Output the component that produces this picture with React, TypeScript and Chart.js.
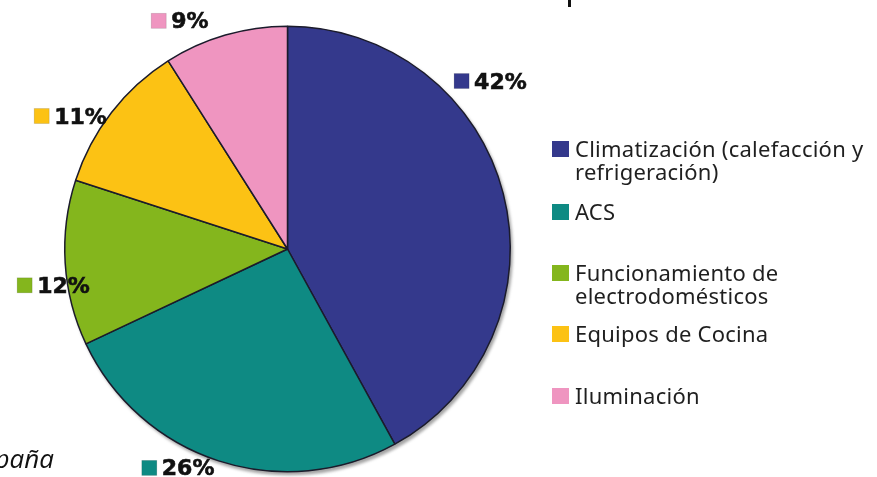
import React, { useEffect, useRef } from "react";
import { Chart, registerables } from "chart.js";

Chart.register(...registerables);

const categories = [
  "Climatización (calefacción y refrigeración)",
  "ACS",
  "Funcionamiento de electrodomésticos",
  "Equipos de Cocina",
  "Iluminación",
];
const legendLines = [
  ["Climatización (calefacción y", "refrigeración)"],
  ["ACS"],
  ["Funcionamiento de", "electrodomésticos"],
  ["Equipos de Cocina"],
  ["Iluminación"],
];
const values = [42, 26, 12, 11, 9];
const colors = ["#34398C", "#0E8A83", "#84B61D", "#FCC214", "#EF95C0"];

// label placement relative to slice geometry (angle nudge in degrees, radial offset in px)
const labelNudgeDeg = [-25.3, 8.6, -5.1, -6.2, -9];
const labelRadial = [41, 21.5, 14, 32, 30];

// legend layout
const LEGEND_X = 552;
const LEGEND_BASELINES = [157, 220, 281, 342, 404];
const LEGEND_LINE_H = 23;
const LEGEND_FONT = "22px 'Noto Sans'";
const LABEL_FONT = "bold 22px 'DejaVu Sans'";

const overlayPlugin = {
  id: "overlay",
  beforeDatasetsDraw(chart: any) {
    const meta = chart.getDatasetMeta(0);
    const arc = meta.data[0];
    if (!arc) return;
    const ctx = chart.ctx;
    ctx.save();
    ctx.fillStyle = "rgba(90,90,90,0.55)";
    ctx.filter = "blur(1.5px)";
    ctx.beginPath();
    ctx.arc(arc.x + 2, arc.y + 3, arc.outerRadius + 0.5, 0, Math.PI * 2);
    ctx.fill();
    ctx.restore();
  },
  afterDraw(chart: any) {
    const ctx = chart.ctx;
    const meta = chart.getDatasetMeta(0);
    ctx.save();
    // percentage labels
    ctx.font = LABEL_FONT;
    ctx.textBaseline = "alphabetic";
    ctx.textAlign = "left";
    meta.data.forEach((a: any, i: number) => {
      const mid = (a.startAngle + a.endAngle) / 2 + (labelNudgeDeg[i] * Math.PI) / 180;
      const r = a.outerRadius + labelRadial[i];
      const cx = a.x + Math.cos(mid) * r;
      const cy = a.y + Math.sin(mid) * r;
      const txt = values[i] + "%";
      const tw = ctx.measureText(txt).width;
      const gw = 15 + 5 + tw;
      const x0 = cx - gw / 2;
      ctx.fillStyle = colors[i];
      ctx.fillRect(x0, cy - 7, 15, 15);
      ctx.strokeStyle = "rgba(0,0,0,0.15)";
      ctx.lineWidth = 0.8;
      ctx.strokeRect(x0, cy - 7, 15, 15);
      ctx.fillStyle = "#111";
      ctx.lineWidth = 0.6;
      ctx.strokeStyle = "#111";
      ctx.fillText(txt, x0 + 20, cy + 8);
      ctx.strokeText(txt, x0 + 20, cy + 8);
    });
    // legend
    ctx.font = LEGEND_FONT;
    (ctx as any).letterSpacing = "0.25px";
    categories.forEach((_, i) => {
      const b = LEGEND_BASELINES[i];
      ctx.fillStyle = colors[i];
      ctx.fillRect(LEGEND_X, b - 16, 17, 16);
      ctx.fillStyle = "#1f1f1f";
      legendLines[i].forEach((ln, j) => {
        ctx.fillText(ln, LEGEND_X + 23, b + j * LEGEND_LINE_H);
      });
    });
    (ctx as any).letterSpacing = "0px";
    // stray source text and tick
    ctx.font = "italic 26px 'Open Sans'";
    ctx.textAlign = "right";
    ctx.fillStyle = "#111";
    ctx.fillText("España", 54, 468);
    ctx.fillRect(568, 0, 3, 7);
    ctx.restore();
  },
};

export default function App() {
  const ref = useRef<HTMLCanvasElement>(null);
  useEffect(() => {
    if (!ref.current) return;
    const chart = new Chart(ref.current, {
      type: "pie",
      data: {
        labels: categories,
        datasets: [
          {
            data: values,
            backgroundColor: colors,
            borderColor: "#1b1b2b",
            borderWidth: 1.5,
          },
        ],
      },
      options: {
        responsive: false,
        animation: false,
        layout: { padding: { left: 64, top: 25.5, right: 366, bottom: 4.5 } },
        plugins: { legend: { display: false }, tooltip: { enabled: false } },
      },
      plugins: [overlayPlugin],
    });
    return () => chart.destroy();
  }, []);
  return (
    <div style={{ position: "absolute", left: 0, top: 0, width: 877, height: 477, background: "#fff" }}>
      <canvas ref={ref} width={877} height={477} />
    </div>
  );
}
